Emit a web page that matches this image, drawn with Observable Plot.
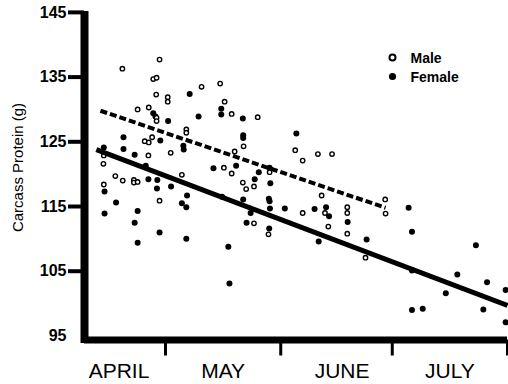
<!DOCTYPE html>
<html><head><meta charset="utf-8">
<script src="https://cdn.jsdelivr.net/npm/d3@7"></script>
<script src="https://cdn.jsdelivr.net/npm/@observablehq/plot@0.6"></script>
<style>html,body{margin:0;padding:0;background:#fff}</style>
</head><body><div id="chart"></div>
<script>
// Days counted from 1 April; protein in grams
const maleDay = [28.4,18.4,26.7,27.6,27.5,30.6,30.6,39.7,44.7,22.5,25.5,27.6,27.6,35.6,35.6,24.4,25.5,26.4,31.4,25.4,13.4,13.3,16.5,18.5,21.5,21.5,22.5,34.4,13.4,28.4,45.9,47.8,54.8,51.0,64.9,66.9,71.0,74.8,48.6,45.7,47.8,58.0,50.8,51.7,53.8,53.8,57.7,72.0,66.9,72.9,73.8,78.9,78.9,78.9,83.8,89.1,89.2];
const maleProtein = [137.7,136.3,134.7,134.9,132.3,131.9,131.2,133.5,134.0,130.0,130.3,128.7,128.2,126.9,126.4,125.1,124.9,125.7,123.3,122.9,122.9,121.6,119.7,119.0,119.1,118.7,118.8,119.9,118.4,115.9,131.2,129.3,128.8,124.3,123.7,122.1,123.1,123.1,123.5,121.0,120.1,120.3,118.7,117.7,118.1,112.4,110.7,116.7,114.0,114.0,111.9,114.9,114.0,110.8,107.1,116.1,113.9];
const femaleDay = [36.5,26.7,27.3,30.7,38.9,45.0,45.0,18.7,28.6,18.7,13.4,21.7,34.8,34.9,24.7,42.9,25.4,27.8,27.7,31.5,13.6,35.8,16.7,34.4,35.6,13.6,22.5,21.7,28.4,22.5,35.6,50.8,50.9,50.9,65.2,49.0,55.1,58.0,54.0,58.2,50.9,57.8,58.0,58.1,62.1,52.9,51.8,57.9,46.9,47.2,45.2,70.1,73.2,74.0,71.2,79.0,84.1,95.4,96.3,113.5,96.3,108.5,116.5,105.4,121.5,96.3,99.2,115.5,121.5];
const femaleProtein = [132.4,129.4,128.9,128.2,128.9,130.1,129.2,125.7,125.2,123.9,124.1,123.0,124.4,123.8,121.3,120.9,119.2,119.1,117.8,118.1,117.3,116.7,115.6,115.5,114.9,113.9,114.3,112.5,111.0,109.4,110.0,128.6,126.0,125.6,126.3,121.3,120.3,121.0,119.2,118.6,116.1,116.2,115.8,114.7,114.7,114.0,112.5,111.6,108.8,103.1,116.5,114.6,114.9,113.5,109.6,112.6,109.9,114.8,111.1,109.0,105.1,104.5,103.3,101.6,102.1,99.0,99.2,99.1,97.1];
// Regression lines (end points)
const maleFitDay = [12.5, 89.2];
const maleFitProtein = [129.8, 114.8];
const femaleFitDay = [11.4, 122.0];
const femaleFitProtein = [123.8, 99.7];
// Axes
const monthNames = ["APRIL","MAY","JUNE","JULY"];
const monthLabelDay = [17.5, 45.5, 77.5, 106.5];
const monthBoundaryDay = [30, 61, 91, 122];
const yTickValues = [105, 115, 125, 135, 145];
const yBottomLabel = [95];
const seriesNames = ["Male", "Female"];

const xDomain = [8.21, 122];
const yDomain = [94.37, 145.6];

const male = maleDay.map((d, i) => ({day: d, protein: maleProtein[i]}));
const female = femaleDay.map((d, i) => ({day: d, protein: femaleProtein[i]}));
const maleFit = maleFitDay.map((d, i) => ({day: d, protein: maleFitProtein[i]}));
const femaleFit = femaleFitDay.map((d, i) => ({day: d, protein: femaleFitProtein[i]}));

const font = "'Liberation Sans', Arial, Helvetica, sans-serif";

const chart = Plot.plot({
  width: 508, height: 384,
  marginLeft: 84, marginRight: 1, marginTop: 8, marginBottom: 44.5,
  style: {fontFamily: font, background: "white", color: "black"},
  x: {domain: xDomain},
  y: {domain: yDomain},
  marks: [
    Plot.dot(female, {x: "day", y: "protein", r: 3, fill: "black"}),
    Plot.dot(male, {x: "day", y: "protein", r: 2.2, stroke: "black", strokeWidth: 1.4, fill: "white"}),
    Plot.line(femaleFit, {x: "day", y: "protein", stroke: "black", strokeWidth: 5, strokeLinecap: "butt"}),
    Plot.line(maleFit, {x: "day", y: "protein", stroke: "black", strokeWidth: 4, strokeDasharray: "7,3", strokeLinecap: "butt"}),
    Plot.ruleX([xDomain[0]], {y1: yDomain[0] - 0.55, y2: 145.15, strokeWidth: 8, stroke: "black"}),
    Plot.ruleY([yDomain[0]], {x1: xDomain[0], x2: xDomain[1], strokeWidth: 7, stroke: "black"}),
    Plot.axisY(yTickValues, {tickSize: 16, tickPadding: 2, strokeWidth: 4, stroke: "black", fill: "black", fontSize: 16, fontWeight: "bold", label: null}),
    Plot.axisY(yBottomLabel, {tickSize: 0, tickPadding: 18, fill: "black", fontSize: 16, fontWeight: "bold", label: null}),
    Plot.axisX(monthBoundaryDay, {tickSize: 16, strokeWidth: 3, stroke: "black", tickFormat: () => "", label: null}),
    Plot.axisX(monthLabelDay, {tickSize: 0, tickPadding: 23, fill: "black", fontSize: 21, tickFormat: d => monthNames[monthLabelDay.indexOf(d)], label: null}),
    Plot.text(["Carcass Protein (g)"], {frameAnchor: "left", rotate: -90, dx: -62, dy: -6.75, lineAnchor: "bottom", textAnchor: "middle", fontSize: 15, fill: "black"}),
    // legend
    Plot.dot([seriesNames[0]], {frameAnchor: "top-right", dx: -115, dy: 49, r: 3, stroke: "black", strokeWidth: 2, fill: "white"}),
    Plot.dot([seriesNames[1]], {frameAnchor: "top-right", dx: -115, dy: 68, r: 3.6, fill: "black"}),
    Plot.text([seriesNames[0]], {frameAnchor: "top-right", dx: -97, dy: 54, textAnchor: "start", lineAnchor: "bottom", fontSize: 14, fontWeight: "bold", fill: "black"}),
    Plot.text([seriesNames[1]], {frameAnchor: "top-right", dx: -97, dy: 73, textAnchor: "start", lineAnchor: "bottom", fontSize: 14, fontWeight: "bold", fill: "black"})
  ]
});
document.getElementById("chart").appendChild(chart);
</script>
</body></html>
